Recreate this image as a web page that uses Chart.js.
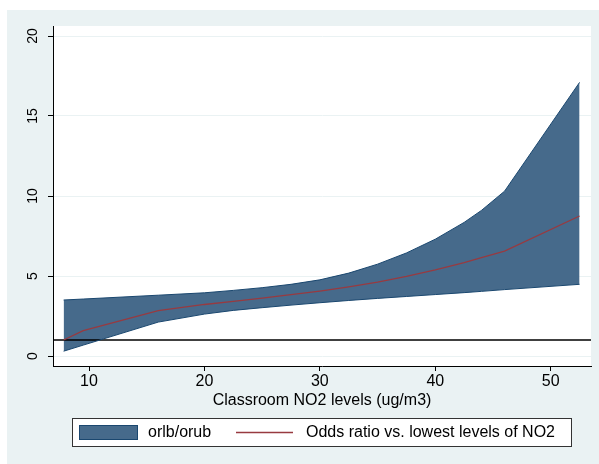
<!DOCTYPE html>
<html>
<head>
<meta charset="utf-8">
<script src="https://cdn.jsdelivr.net/npm/chart.js@4"></script>
<style>
  html, body { margin: 0; padding: 0; background: #fff; }
  #wrap { width: 599px; height: 464px; }
</style>
</head>
<body>
<div id="wrap"><canvas id="chart" width="599" height="464"></canvas></div>
<script>
// Data
const no2 = [7.8, 9.5, 16, 20, 22.5, 25, 27.5, 30, 32.5, 35, 37.5, 40, 42.5, 44, 46, 52.5];
const orUpper = [3.5, 3.56, 3.8, 3.95, 4.1, 4.27, 4.48, 4.76, 5.18, 5.74, 6.44, 7.3, 8.35, 9.1, 10.3, 17.1];
const orLower = [0.3, 0.68, 2.12, 2.62, 2.85, 3.02, 3.18, 3.33, 3.47, 3.6, 3.72, 3.84, 3.96, 4.04, 4.15, 4.48];
const oddsRatio = [1.0, 1.58, 2.83, 3.22, 3.42, 3.62, 3.83, 4.06, 4.32, 4.62, 4.97, 5.38, 5.84, 6.15, 6.55, 8.75];
const refLevel = 1;
const xTicks = [10, 20, 30, 40, 50];
const yTicks = [0, 5, 10, 15, 20];
const xMin = 6.88, xMax = 53.49;

const bandFill = "#466a8b";
const bandLine = "#1a476f";
const orColor = "#983a40";
const bgColor = "#eaf2f3";
const fontFam = "'Liberation Sans', Arial, sans-serif";

const pts = (ys) => no2.map((x, i) => ({ x, y: ys[i] }));

const decor = {
  id: "decor",
  beforeDraw(chart) {
    const { ctx, chartArea: a } = chart;
    ctx.save();
    ctx.fillStyle = "#fff";
    ctx.fillRect(0, 0, chart.width, chart.height);
    ctx.fillStyle = bgColor;
    ctx.fillRect(7, 10, chart.width - 7, chart.height - 10);
    ctx.fillStyle = "#fff";
    ctx.fillRect(a.left, a.top, a.right - a.left, a.bottom - a.top);
    ctx.restore();
  },
  afterDraw(chart) {
    const { ctx } = chart;
    const y = chart.scales.y;
    ctx.save();
    // rotated y tick labels
    ctx.fillStyle = "#000";
    ctx.font = "14px " + fontFam;
    ctx.textAlign = "center";
    ctx.textBaseline = "middle";
    yTicks.forEach(v => {
      ctx.save();
      ctx.translate(33, y.getPixelForValue(v));
      ctx.rotate(-Math.PI / 2);
      ctx.fillText(String(v), 0, 0);
      ctx.restore();
    });
    // legend box
    ctx.fillStyle = "#fff";
    ctx.fillRect(72, 418, 500, 29);
    ctx.strokeStyle = "#333";
    ctx.lineWidth = 1;
    ctx.strokeRect(72.5, 418.5, 499, 28);
    ctx.fillStyle = bandFill;
    ctx.fillRect(79, 425, 59, 15);
    ctx.strokeStyle = bandLine;
    ctx.strokeRect(79.5, 425.5, 58, 14);
    ctx.strokeStyle = orColor;
    ctx.lineWidth = 1.3;
    ctx.beginPath();
    ctx.moveTo(236, 432.5);
    ctx.lineTo(293, 432.5);
    ctx.stroke();
    ctx.fillStyle = "#000";
    ctx.font = "16px " + fontFam;
    ctx.textAlign = "left";
    ctx.fillText(chart.data.datasets[0].label, 148, 433);
    ctx.fillText(chart.data.datasets[2].label, 306, 433);
    ctx.restore();
  }
};

new Chart(document.getElementById("chart"), {
  type: "line",
  data: {
    datasets: [
      { label: "orlb/orub", data: pts(orUpper), borderColor: bandLine, backgroundColor: bandFill, borderWidth: 1, fill: "+1", pointRadius: 0, tension: 0 },
      { label: "lower", data: pts(orLower), borderColor: bandLine, borderWidth: 1, fill: false, pointRadius: 0, tension: 0 },
      { label: "Odds ratio vs. lowest levels of NO2", data: pts(oddsRatio), borderColor: orColor, borderWidth: 1.3, fill: false, pointRadius: 0, tension: 0 },
      { label: "ref", data: [{ x: xMin, y: refLevel }, { x: xMax, y: refLevel }], borderColor: "#000", borderWidth: 1.3, fill: false, pointRadius: 0 },
    ],
  },
  options: {
    responsive: false,
    animation: false,
    layout: { padding: { left: 7, top: 26, right: 8, bottom: 50 } },
    plugins: {
      legend: { display: false },
      tooltip: { enabled: false },
      filler: { drawTime: "beforeDatasetsDraw" },
    },
    scales: {
      x: {
        type: "linear",
        min: xMin,
        max: xMax,
        afterBuildTicks: s => { s.ticks = xTicks.map(v => ({ value: v })); },
        afterFit: s => { s.height = 48; },
        ticks: { color: "#000", font: { family: fontFam, size: 16 }, padding: 1, maxRotation: 0 },
        grid: { drawOnChartArea: false, tickLength: 5, tickColor: "#000" },
        border: { color: "#000", width: 1 },
        title: { display: true, text: "Classroom NO2 levels (ug/m3)", color: "#000", font: { family: fontFam, size: 16 }, padding: { top: 0, bottom: 4 } },
      },
      y: {
        type: "linear",
        min: -0.625,
        max: 20.625,
        afterBuildTicks: s => { s.ticks = yTicks.map(v => ({ value: v })); },
        afterFit: s => { s.width = 46; },
        ticks: { display: false },
        grid: { color: bgColor, lineWidth: 1, tickLength: 5, tickColor: "#000" },
        border: { color: "#000", width: 1 },
      },
    },
  },
  plugins: [decor],
});
</script>
</body>
</html>
